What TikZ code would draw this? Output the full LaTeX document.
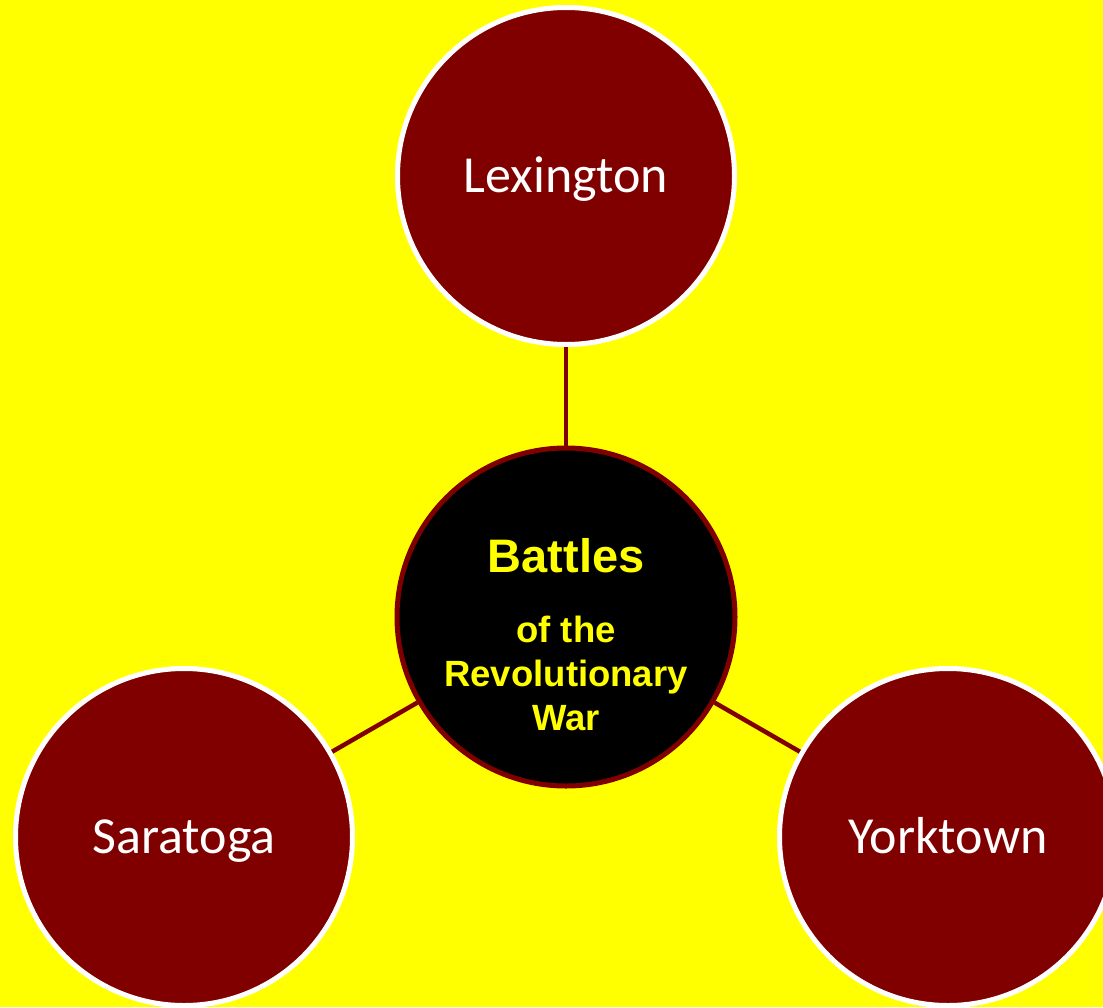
\documentclass[tikz,border=0pt]{standalone}
\usepackage{fontspec}
\setmainfont{Carlito}
\newfontfamily\arialbold[BoldFont={Liberation Sans Bold}]{Liberation Sans}
\definecolor{bgyellow}{HTML}{FFFF00}
\definecolor{maroonred}{HTML}{800000}
\begin{document}
\begin{tikzpicture}[x=1pt,y=-1pt,
  battle/.style={circle, minimum size=337pt, inner sep=0pt, fill=maroonred, draw=white, line width=5pt,
     text=white, text height=32pt, text depth=0pt, font=\fontsize{52}{60}\selectfont},
  hub/.style={circle, minimum size=338pt, inner sep=0pt, fill=black, draw=maroonred, line width=5pt},
  link/.style={draw=maroonred, line width=4.5pt},
  hubtxt/.style={text=bgyellow, inner sep=0pt, anchor=base}]
\fill[bgyellow] (0,0) rectangle (1103,1007);
\useasboundingbox (0,0) rectangle (1103,1007);
\clip (0,0) rectangle (1103,1007);
\node[hub] (c) at (566,617) {};
\node[battle] (lex) at (566,176) {Lexington};
\node[battle] (sar) at (184,837) {Saratoga};
\node[battle] (york) at (948,837) {Yorktown};
\draw[link] (c) -- (lex);
\draw[link] (c) -- (sar);
\draw[link] (c) -- (york);
\node[hubtxt, font=\arialbold\bfseries\fontsize{47}{56}\selectfont] (t1) at (566,572) {Battles};
\node[hubtxt, font=\arialbold\bfseries\fontsize{36.5}{44}\selectfont] (t2) at (566,642) {of the};
\node[hubtxt, font=\arialbold\bfseries\fontsize{36.5}{44}\selectfont] (t3) at (566,686) {Revolutionary};
\node[hubtxt, font=\arialbold\bfseries\fontsize{36.5}{44}\selectfont] (t4) at (566,730) {War};
\end{tikzpicture}
\end{document}
